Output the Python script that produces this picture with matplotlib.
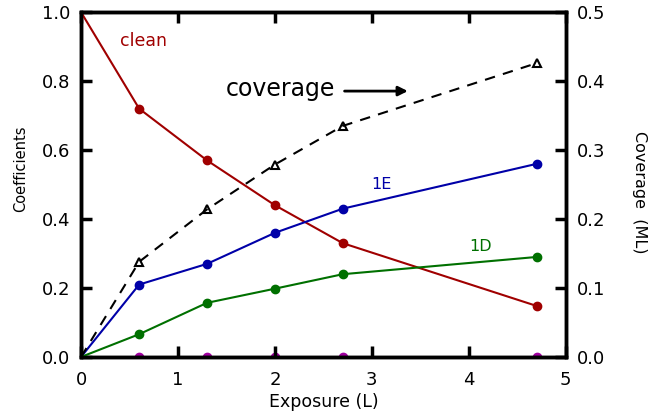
import numpy as np
import matplotlib
matplotlib.use("Agg")
import matplotlib.pyplot as plt

# exposure (L)
exposure = [0.0, 0.6, 1.3, 2.0, 2.7, 4.7]
clean = [1.0, 0.72, 0.57, 0.44, 0.33, 0.148]
coef_1e = [0.0, 0.21, 0.27, 0.36, 0.43, 0.56]
coef_1d = [0.0, 0.066, 0.157, 0.198, 0.24, 0.29]
coverage = [0.0, 0.138, 0.214, 0.279, 0.335, 0.426]
other = [0.0, 0.0, 0.0, 0.0, 0.0]

RED = "#a00000"
BLUE = "#0000a8"
GREEN = "#007000"
MAG = "#a000a0"

fig = plt.figure(figsize=(6.64, 4.18), dpi=100)
ax = fig.add_axes([0.122, 0.146, 0.730, 0.825])
ax2 = ax.twinx()

ax.plot(exposure, clean, "-", color=RED, lw=1.5, zorder=3)
ax.plot(exposure[1:], clean[1:], "o", color=RED, ms=6, zorder=3)
ax.plot(exposure, coef_1e, "-", color=BLUE, lw=1.5, zorder=3)
ax.plot(exposure[1:], coef_1e[1:], "o", color=BLUE, ms=6, zorder=3)
ax.plot(exposure, coef_1d, "-", color=GREEN, lw=1.5, zorder=3)
ax.plot(exposure[1:], coef_1d[1:], "o", color=GREEN, ms=6, zorder=3)
ax.plot(exposure[1:], other, "o", color=MAG, ms=6, zorder=1)

ax2.plot(exposure, coverage, "--", color="black", lw=1.5, dashes=(5, 4))
ax2.plot(exposure[1:], coverage[1:], "^", mfc="none", mec="black", mew=1.5, ms=6)

ax.set_xlim(0, 5)
ax.set_ylim(0, 1.0)
ax2.set_ylim(0, 0.5)
ax.set_xticks([0, 1, 2, 3, 4, 5])
ax.set_yticks([0.0, 0.2, 0.4, 0.6, 0.8, 1.0])
ax.set_yticklabels(["0.0", "0.2", "0.4", "0.6", "0.8", "1.0"])
ax2.set_yticks([0.0, 0.1, 0.2, 0.3, 0.4, 0.5])
ax2.set_yticklabels(["0.0", "0.1", "0.2", "0.3", "0.4", "0.5"])

for a in (ax, ax2):
    for s in a.spines.values():
        s.set_linewidth(2.5)
ax.tick_params(axis="y", direction="in", length=8, width=2.5, labelsize=13, pad=8)
ax.tick_params(axis="x", direction="in", length=8, width=2.5, labelsize=13,
               top=True, pad=10)
ax2.tick_params(axis="y", direction="in", length=8, width=2.5, labelsize=13, pad=8)

ax.set_xlabel("Exposure (L)", fontsize=12.5, labelpad=3)
ax.set_ylabel("Coefficients", fontsize=10.5, labelpad=8)
ax.yaxis.set_label_coords(-0.109, 0.545)
ax2.set_ylabel("Coverage  (ML)", fontsize=11.5, rotation=270, labelpad=18)
ax2.yaxis.set_label_coords(1.168, 0.478)

ax.text(0.64, 0.916, "clean", color=RED, fontsize=12.5, ha="center", va="center")
ax.text(2.06, 0.777, "coverage", color="black", fontsize=17, ha="center", va="center")
ax.annotate("", xy=(3.4, 0.771), xytext=(2.69, 0.771),
            arrowprops=dict(arrowstyle="-|>", color="black", lw=2, mutation_scale=14))
ax.text(3.10, 0.499, "1E", color=BLUE, fontsize=11.5, ha="center", va="center")
ax.text(4.12, 0.319, "1D", color=GREEN, fontsize=11.5, ha="center", va="center")

fig.savefig("out.png", dpi=100)
